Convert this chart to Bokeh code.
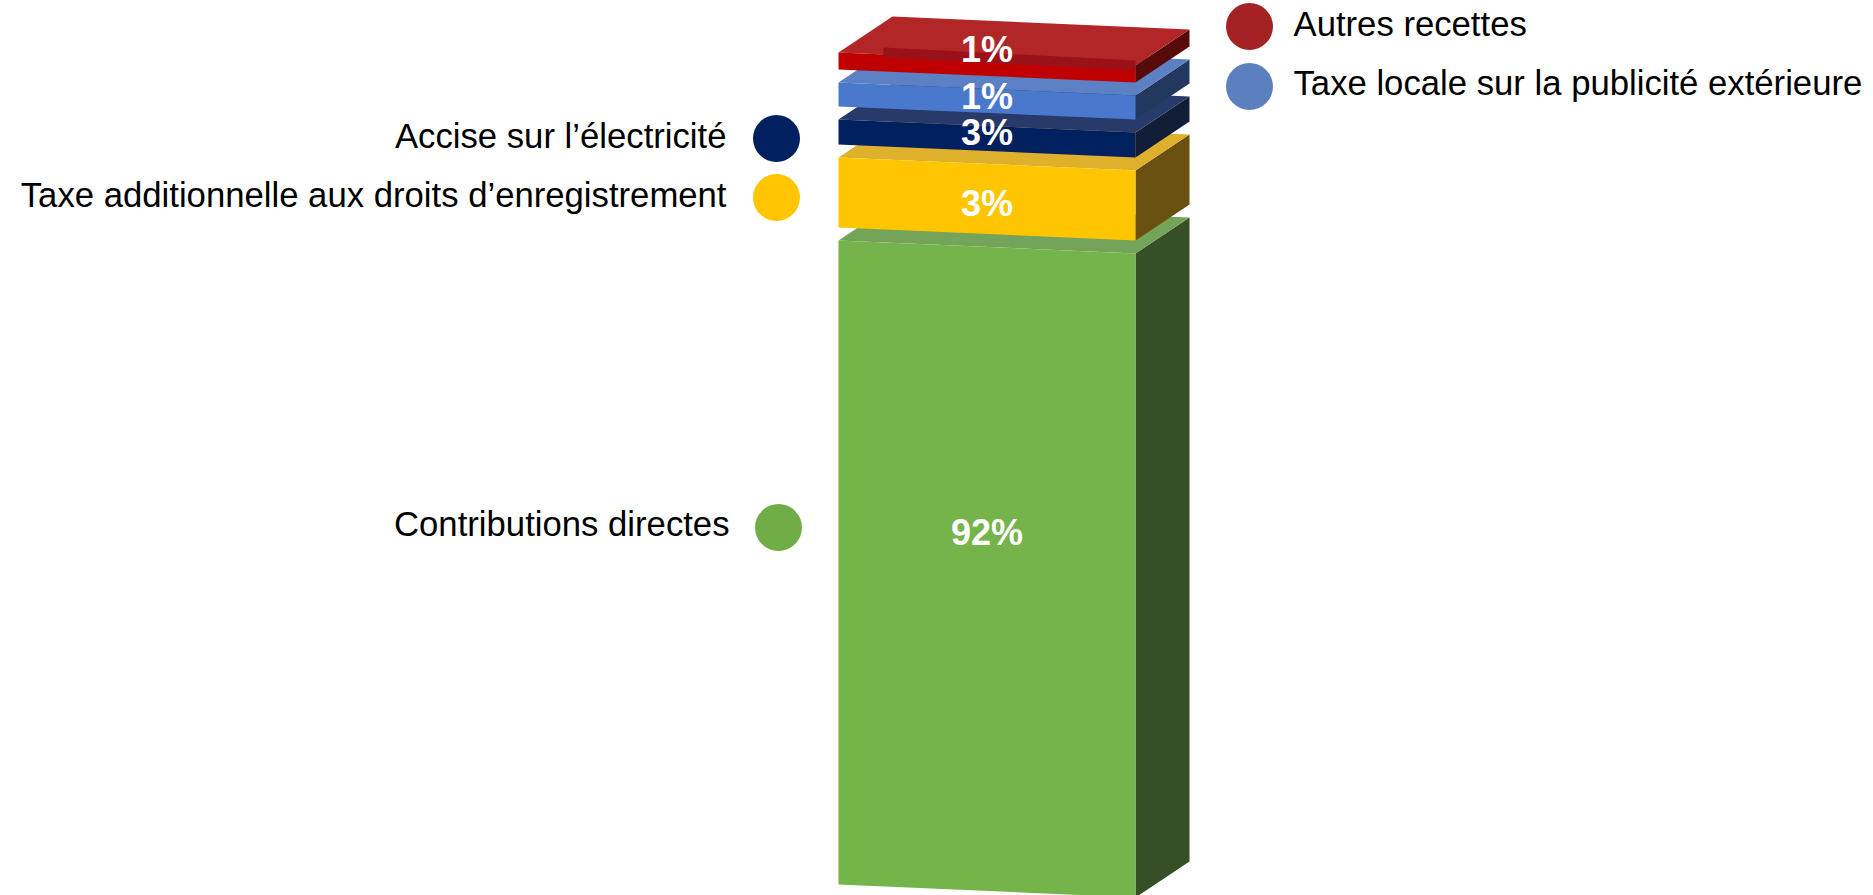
from bokeh.plotting import figure
from bokeh.models import Range1d
from bokeh.core.properties import value
from bokeh.embed import file_html
from bokeh.resources import INLINE

# ---------------- data ----------------
categories = ["Contributions directes",
              "Taxe additionnelle aux droits d\u2019enregistrement",
              "Accise sur l\u2019\u00e9lectricit\u00e9",
              "Taxe locale sur la publicit\u00e9 ext\u00e9rieure",
              "Autres recettes"]
shares = [92, 3, 3, 1, 1]          # percent, stacked bottom -> top
pct_labels = [f"{v}%" for v in shares]

# ---------------- styles ----------------
front_col = ["#75b34b", "#ffc600", "#002060", "#4a78cc", "#c00000"]
top_col = ["#74a35a", "#dfb02c", "#273a69", "#5b80c3", "#b22628"]
side_col = ["#364f26", "#6a5010", "#121d38", "#22385e", "#560a0a"]
dot_col = ["#70ad47", "#ffc600", "#002060", "#5b7fbf", "#a52224"]

# ---------------- layout (screen pixels) ----------------
W, H = 1873, 895
L, R = 838, 1135          # front face left / right
SLOPE = 13                # right edge lower than left
DX, DY = 54, -36          # depth offset
BASE = 884                # bottom of the stack (left edge)
GAP = 13
layer_px = [644, 70, 25, 24, 17]   # exploded, broken-scale thickness of each layer

p = figure(width=W, height=H, output_backend="svg", toolbar_location=None,
           x_range=Range1d(0, W), y_range=Range1d(H, 0),
           min_border=0, background_fill_color="white", border_fill_color="white")
p.axis.visible = False
p.grid.visible = False
p.outline_line_color = None

tops, bots = [], []
y = BASE
for t in layer_px:
    bots.append(y)
    y = y - t
    tops.append(y)
    y = y - GAP

for i in range(len(shares)):
    yt, yb = tops[i], bots[i]
    side = ([R, R + DX, R + DX, R], [yt + SLOPE, yt + SLOPE + DY, yb + SLOPE + DY, yb + SLOPE])
    top = ([L, R, R + DX, L + DX], [yt, yt + SLOPE, yt + SLOPE + DY, yt + DY])
    front = ([L, R, R, L], [yt, yt + SLOPE, yb + SLOPE, yb])
    p.patches(xs=[side[0], top[0], front[0]], ys=[side[1], top[1], front[1]],
              fill_color=[side_col[i], top_col[i], front_col[i]], line_color=None)

# translucent inner shading seen through the top layer
yt = tops[-1]
p.patch(x=[L + 45, R, R, L + 45],
        y=[yt - 5, yt - 5 + SLOPE, yt + 5 + SLOPE, yt + 5],
        fill_color="#9b1119", line_color=None)

FONT = value("Liberation Sans")

# percentage labels (vertical centres)
lab_y = [532, 203, 132, 96, 49]
p.text(x=[(L + R) / 2] * 5, y=lab_y, text=pct_labels,
       text_font=FONT, text_font_style="bold",
       text_font_size="36px", text_color="white", text_align="center",
       text_baseline="middle")

# category labels with dots
left_idx = [0, 1, 2]
left_y = [523, 194, 135]
left_dot = [(778, 527), (776, 197), (776, 138)]
p.text(x=[729, 726, 726], y=left_y, text=[categories[i] for i in left_idx],
       text_font=FONT, text_font_size="34.7px", text_color="black",
       text_align="right", text_baseline="middle")
right_idx = [4, 3]
right_y = [23, 82]
right_dot = [(1249, 26), (1249, 86)]
p.text(x=[1293, 1293], y=right_y, text=[categories[i] for i in right_idx],
       text_font=FONT, text_font_size="34.7px", text_color="black",
       text_align="left", text_baseline="middle")

dots = left_dot + right_dot
dcols = [dot_col[i] for i in left_idx + right_idx]
p.scatter(x=[d[0] for d in dots], y=[d[1] for d in dots], size=47,
          fill_color=dcols, line_color=None)

open("out.html", "w").write(file_html(p, INLINE))
